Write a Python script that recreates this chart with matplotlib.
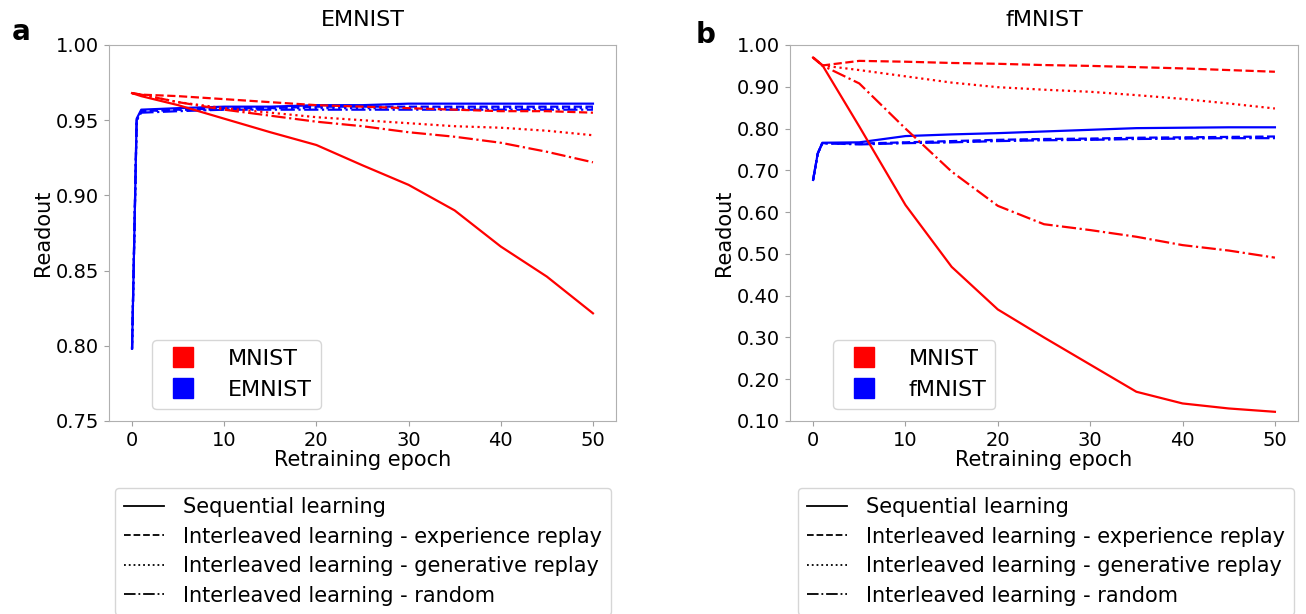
import matplotlib
matplotlib.use('Agg')
import matplotlib.pyplot as plt
from matplotlib.lines import Line2D

# epochs
ep_red = [0, 1, 5, 10, 15, 20, 25, 30, 35, 40, 45, 50]
ep_blue = [0, 0.5, 1, 5, 10, 15, 20, 25, 30, 35, 40, 45, 50]

# panel a: EMNIST retraining
a_mnist_seq = [0.968, 0.966, 0.960, 0.951, 0.942, 0.9335, 0.920, 0.907, 0.890, 0.866, 0.846, 0.8216]
a_mnist_exp = [0.968, 0.967, 0.966, 0.964, 0.962, 0.960, 0.959, 0.958, 0.957, 0.956, 0.956, 0.955]
a_mnist_gen = [0.968, 0.967, 0.962, 0.958, 0.955, 0.952, 0.950, 0.948, 0.946, 0.945, 0.943, 0.940]
a_mnist_rnd = [0.968, 0.967, 0.962, 0.957, 0.953, 0.949, 0.946, 0.942, 0.939, 0.935, 0.929, 0.922]
a_emnist_seq = [0.798, 0.951, 0.957, 0.958, 0.959, 0.959, 0.960, 0.960, 0.961, 0.961, 0.961, 0.961, 0.961]
a_emnist_exp = [0.798, 0.950, 0.956, 0.957, 0.958, 0.958, 0.959, 0.959, 0.959, 0.959, 0.959, 0.959, 0.959]
a_emnist_gen = [0.798, 0.950, 0.956, 0.957, 0.957, 0.958, 0.958, 0.958, 0.958, 0.958, 0.958, 0.958, 0.958]
a_emnist_rnd = [0.798, 0.950, 0.955, 0.956, 0.957, 0.957, 0.957, 0.957, 0.957, 0.957, 0.957, 0.957, 0.957]

# panel b: fMNIST retraining
b_mnist_seq = [0.970, 0.952, 0.805, 0.617, 0.469, 0.367, 0.300, 0.235, 0.170, 0.142, 0.130, 0.122]
b_mnist_exp = [0.970, 0.951, 0.962, 0.960, 0.957, 0.955, 0.952, 0.950, 0.947, 0.944, 0.940, 0.936]
b_mnist_gen = [0.970, 0.951, 0.940, 0.925, 0.910, 0.899, 0.893, 0.888, 0.880, 0.871, 0.860, 0.848]
b_mnist_rnd = [0.970, 0.951, 0.908, 0.800, 0.697, 0.615, 0.571, 0.557, 0.541, 0.521, 0.508, 0.491]
b_fmnist_seq = [0.677, 0.740, 0.766, 0.767, 0.782, 0.786, 0.789, 0.793, 0.797, 0.801, 0.802, 0.803, 0.803]
b_fmnist_exp = [0.677, 0.740, 0.765, 0.764, 0.767, 0.770, 0.773, 0.775, 0.776, 0.778, 0.779, 0.780, 0.781]
b_fmnist_gen = [0.677, 0.740, 0.765, 0.763, 0.766, 0.768, 0.771, 0.773, 0.774, 0.776, 0.777, 0.778, 0.779]
b_fmnist_rnd = [0.677, 0.740, 0.765, 0.762, 0.765, 0.767, 0.770, 0.772, 0.773, 0.775, 0.776, 0.777, 0.777]

styles = ['-', '--', ':', '-.']
style_names = ['Sequential learning',
               'Interleaved learning - experience replay',
               'Interleaved learning - generative replay',
               'Interleaved learning - random']

W, H = 1306, 614
fig = plt.figure(figsize=(W / 100, H / 100), dpi=100)
ax_a = fig.add_axes([109 / W, 1 - 421 / H, 507 / W, 376 / H])
ax_b = fig.add_axes([790 / W, 1 - 421 / H, 508 / W, 376 / H])

panels = [
    (ax_a, 'EMNIST', [a_mnist_seq, a_mnist_exp, a_mnist_gen, a_mnist_rnd],
     [a_emnist_seq, a_emnist_exp, a_emnist_gen, a_emnist_rnd], (0.75, 1.0),
     [0.75, 0.80, 0.85, 0.90, 0.95, 1.00]),
    (ax_b, 'fMNIST', [b_mnist_seq, b_mnist_exp, b_mnist_gen, b_mnist_rnd],
     [b_fmnist_seq, b_fmnist_exp, b_fmnist_gen, b_fmnist_rnd], (0.10, 1.0),
     [0.1, 0.2, 0.3, 0.4, 0.5, 0.6, 0.7, 0.8, 0.9, 1.0]),
]

for ax, name, reds, blues, ylim, yticks in panels:
    for ys, ls in zip(blues, styles):
        ax.plot(ep_blue, ys, color='blue', ls=ls, lw=1.6)
    for ys, ls in zip(reds, styles):
        ax.plot(ep_red, ys, color='red', ls=ls, lw=1.6)
    ax.set_ylim(*ylim)
    ax.set_yticks(yticks)
    ax.set_yticklabels(['%.2f' % t for t in yticks])
    ax.set_xticks([0, 10, 20, 30, 40, 50])
    ax.tick_params(labelsize=14, color='#a0a0a0')
    for sp in ax.spines.values():
        sp.set_color('#b0b0b0')
    ax.set_title(name, fontsize=16, pad=14)
    ax.set_xlabel('Retraining epoch', fontsize=15, labelpad=0)
    ax.set_ylabel('Readout', fontsize=15, labelpad=2)
    handles = [Line2D([], [], ls='', marker='s', markersize=15, color=c) for c in ['red', 'blue']]
    ax.legend(handles, ['MNIST', name], loc='lower left', bbox_to_anchor=(0.085, 0.032),
              borderaxespad=0, fontsize=16, handlelength=2.0,
              handletextpad=1.0, borderpad=0.4, labelspacing=0.5)

line_handles = [Line2D([], [], color='black', ls=ls, lw=1.3) for ls in styles]
for x0 in [115, 798]:
    fig.legend(line_handles, style_names, loc='upper left',
               bbox_to_anchor=(x0 / W, 1 - 488 / H), bbox_transform=fig.transFigure,
               borderaxespad=0, fontsize=15, handlelength=1.9, handletextpad=0.9,
               labelspacing=0.45, borderpad=0.45)

fig.text(12 / W, 1 - 32 / H, 'a', fontsize=20, fontweight='bold', va='center')
fig.text(696 / W, 1 - 35 / H, 'b', fontsize=20, fontweight='bold', va='center')

fig.savefig('out.png', dpi=100)
